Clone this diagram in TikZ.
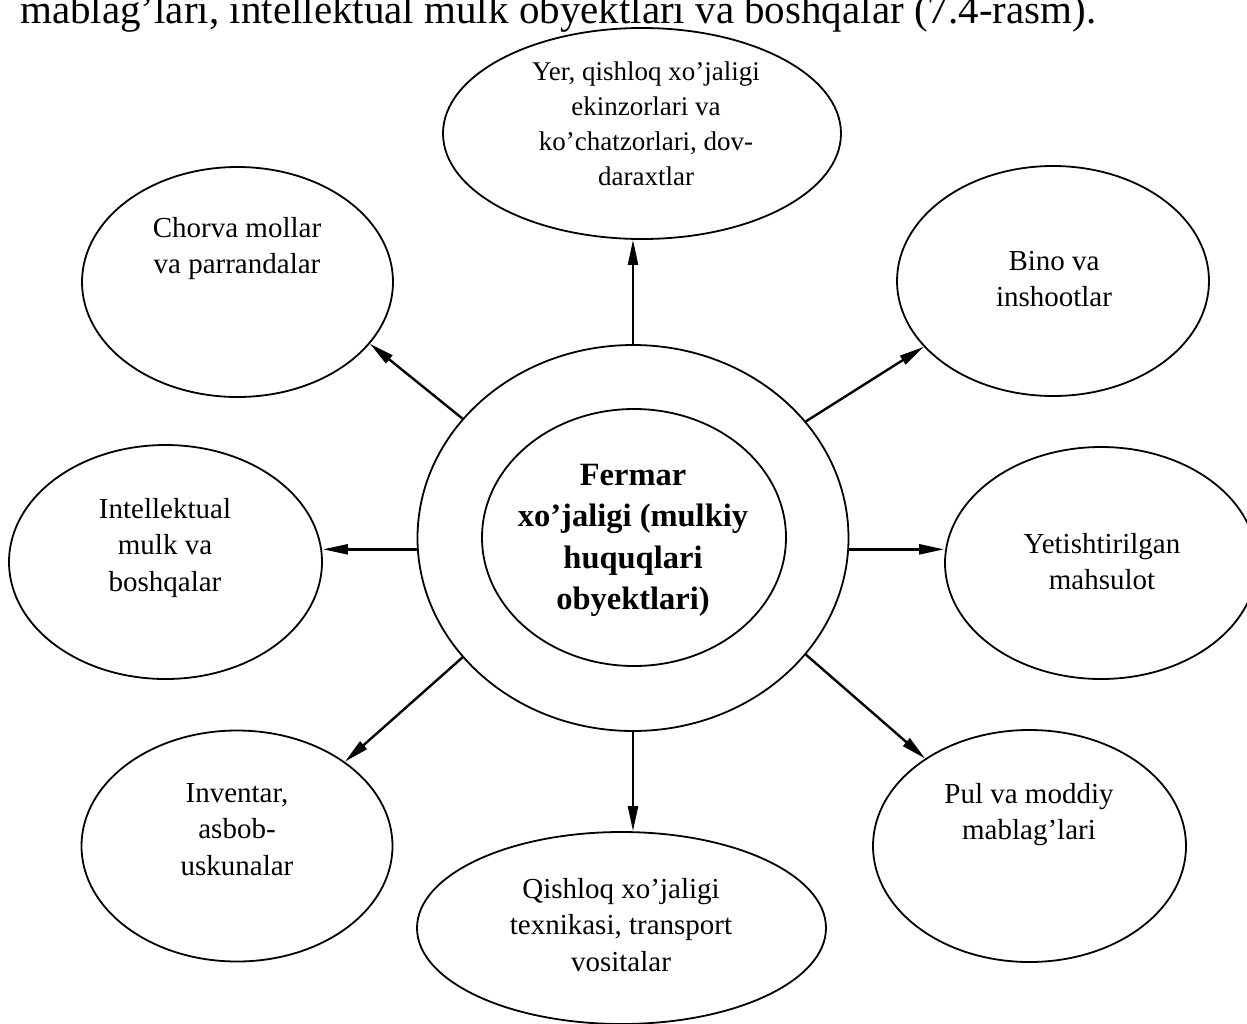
\documentclass[tikz,border=0pt]{standalone}
\usepackage{fontspec}
\setmainfont{Liberation Serif}
\usetikzlibrary{shapes.geometric,arrows.meta}
\newcommand\mlines[1]{\begin{tabular}[t]{@{}c@{}}#1\end{tabular}}
\begin{document}
\begin{tikzpicture}[x=1pt,y=-1pt,
  oval/.style={ellipse,draw,line width=1.8pt,inner sep=0pt},
  lbl/.style={anchor=base,inner sep=0pt,font=\fontsize{29}{36.5}\selectfont},
  slbl/.style={anchor=base,inner sep=0pt,font=\fontsize{27}{35}\selectfont},
  blbl/.style={anchor=base,inner sep=0pt,font=\fontsize{32.5}{41.5}\selectfont\bfseries},
  arr/.style={line width=2.4pt,-{Triangle[length=25pt,width=10pt]}}]
\fill[white] (0,0) rectangle (1247,1023);
\useasboundingbox (0,0) rectangle (1247,1023);
\clip (0,0) rectangle (1247,1023);

% cut-off caption line at the top
\node[anchor=base west,inner sep=0pt,font=\fontsize{41}{44}\selectfont] (cap) at (20,23)
  {mablag’lari, intellektual mulk obyektlari va boshqalar (7.4-rasm).};

% ellipses
\node[oval,minimum width=431pt,minimum height=386pt] (outer) at (633,538) {};
\node[oval,minimum width=304pt,minimum height=257pt] (inner) at (634,537.5) {};
\node[oval,minimum width=398pt,minimum height=211pt] (yer) at (642,133.5) {};
\node[oval,minimum width=311pt,minimum height=230pt] (chorva) at (237.5,282) {};
\node[oval,minimum width=312pt,minimum height=230pt] (bino) at (1053,281) {};
\node[oval,minimum width=313pt,minimum height=234pt] (intel) at (165.5,562) {};
\node[oval,minimum width=312pt,minimum height=232pt] (yet) at (1101,563) {};
\node[oval,minimum width=311pt,minimum height=231pt] (inv) at (237,846) {};
\node[oval,minimum width=409pt,minimum height=192pt] (qish) at (621.5,928) {};
\node[oval,minimum width=313pt,minimum height=232pt] (pul) at (1029.5,846) {};

% texts
\node[blbl] (tcenter) at (633,485) {\mlines{Fermar\\xo’jaligi (mulkiy\\huquqlari\\obyektlari)}};
\node[slbl] (tyer) at (646,80) {\mlines{Yer, qishloq xo’jaligi\\ekinzorlari va\\ko’chatzorlari, dov-\\daraxtlar}};
\node[lbl] (tchorva) at (237,237) {\mlines{Chorva mollar\\va parrandalar}};
\node[lbl] (tbino) at (1054,270) {\mlines{Bino va\\inshootlar}};
\node[lbl] (tintel) at (165,518) {\mlines{Intellektual\\mulk va\\boshqalar}};
\node[lbl] (tyet) at (1102,553) {\mlines{Yetishtirilgan\\mahsulot}};
\node[lbl] (tinv) at (237,802) {\mlines{Inventar,\\asbob-\\uskunalar}};
\node[lbl] (tqish) at (621,898) {\mlines{Qishloq xo’jaligi\\texnikasi, transport\\vositalar}};
\node[lbl] (tpul) at (1029,803) {\mlines{Pul va moddiy\\mablag’lari}};

% arrows
\draw[arr] (outer.north) -- (outer.north |- yer.south);
\draw[arr] (outer.south) -- (outer.south |- qish.north);
\draw[arr] (outer.183.5) -- (outer.183.5 -| intel.east);
\draw[arr] (outer.-3.5) -- (outer.-3.5 -| yet.west);
\draw[arr] (outer.145.2) -- (chorva.-25.8);
\draw[arr] (outer.34.8) -- (bino.-153.3);
\draw[arr] (outer.215.4) -- (inv.38.3);
\draw[arr] (outer.-34.4) -- (pul.140);
\end{tikzpicture}
\end{document}
